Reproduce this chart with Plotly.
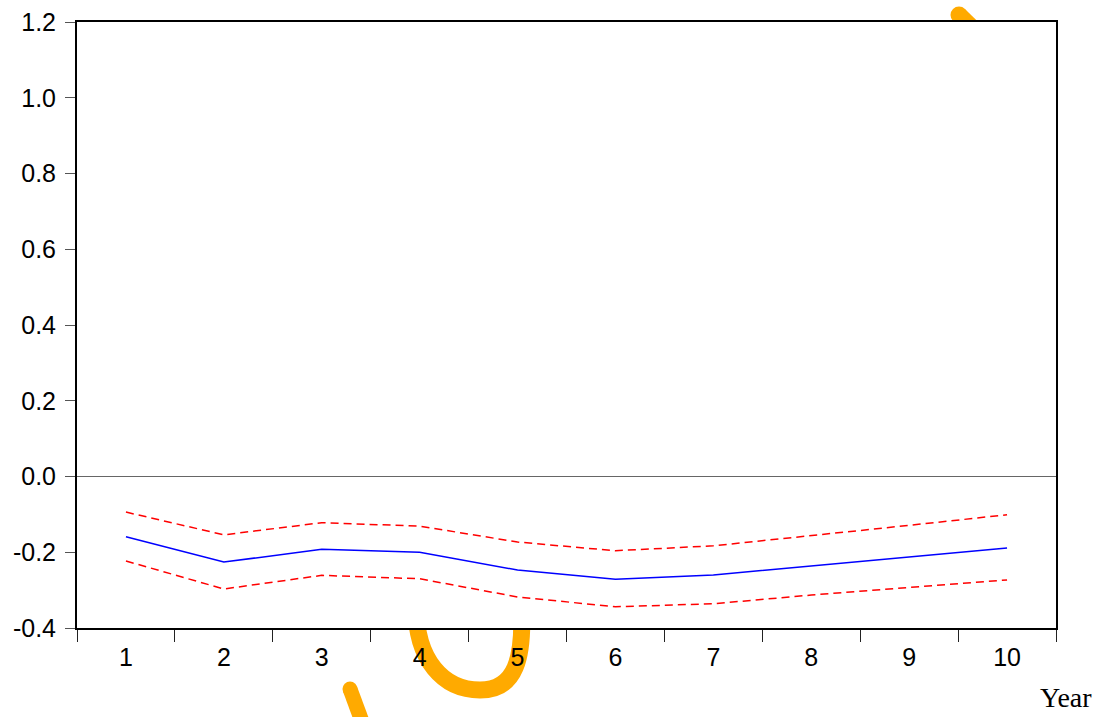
import plotly.graph_objects as go

# Data
periods = ["1", "2", "3", "4", "5", "6", "7", "8", "9", "10"]
response = [-0.159, -0.226, -0.192, -0.200, -0.247, -0.271, -0.260, -0.236, -0.212, -0.189]
upper_band = [-0.094, -0.154, -0.122, -0.131, -0.173, -0.196, -0.183, -0.157, -0.129, -0.101]
lower_band = [-0.223, -0.297, -0.261, -0.270, -0.318, -0.344, -0.336, -0.313, -0.293, -0.273]
y_tick_vals = [-0.4, -0.2, 0.0, 0.2, 0.4, 0.6, 0.8, 1.0, 1.2]
y_tick_text = ["-0.4", "-0.2", "0.0", "0.2", "0.4", "0.6", "0.8", "1.0", "1.2"]

W, H = 1106, 717
L, R, T, B = 77, 50, 22, 89

fig = go.Figure()
fig.add_trace(go.Scatter(x=periods, y=upper_band, mode="lines",
                         line=dict(color="#FF0000", width=1.5, dash="8px,5px"),
                         hoverinfo="skip", showlegend=False))
fig.add_trace(go.Scatter(x=periods, y=lower_band, mode="lines",
                         line=dict(color="#FF0000", width=1.5, dash="8px,5px"),
                         hoverinfo="skip", showlegend=False))
fig.add_trace(go.Scatter(x=periods, y=response, mode="lines",
                         line=dict(color="#0000FF", width=1.5),
                         hoverinfo="skip", showlegend=False))

font_sans = "Liberation Sans, Arial, sans-serif"

# Orange hand-drawn marks (decoration), in pixel coords converted to paper
def px(x):
    return (x - L) / (W - L - R)

def py(y):
    return 1 - (y - T) / (H - T - B)

orange = "#FFAA00"
shapes = []

loop = "M {},{} C {},{} {},{} {},{} C {},{} {},{} {},{}".format(
    px(416), py(600), px(414), py(662), px(445), py(690), px(480), py(690),
    px(515), py(690), px(525), py(660), px(521), py(600))
shapes.append(dict(type="path", xref="paper", yref="paper", path=loop,
                   line=dict(color=orange, width=17), layer="below"))
shapes.append(dict(type="line", xref="paper", yref="paper",
                   x0=px(350), y0=py(689), x1=px(367), y1=py(735),
                   line=dict(color=orange, width=15), layer="below"))
shapes.append(dict(type="circle", xref="paper", yref="paper",
                   x0=px(350 - 7.5), y0=py(689 - 7.5), x1=px(350 + 7.5), y1=py(689 + 7.5),
                   fillcolor=orange, line=dict(width=0), layer="below"))
shapes.append(dict(type="line", xref="paper", yref="paper",
                   x0=px(959), y0=py(15), x1=px(995), y1=py(50),
                   line=dict(color=orange, width=17), layer="below"))
shapes.append(dict(type="circle", xref="paper", yref="paper",
                   x0=px(959 - 8.5), y0=py(15 - 8.5), x1=px(959 + 8.5), y1=py(15 + 8.5),
                   fillcolor=orange, line=dict(width=0), layer="below"))
# white plot area covering the marks inside the frame
shapes.append(dict(type="rect", xref="paper", yref="paper", x0=0, y0=0, x1=1, y1=1,
                   fillcolor="white", line=dict(width=0), layer="below"))

fig.update_layout(
    width=W, height=H,
    margin=dict(l=L, r=R, t=T, b=B, pad=0, autoexpand=False),
    paper_bgcolor="white", plot_bgcolor="white",
    font=dict(family=font_sans, size=25, color="black"),
    shapes=shapes,
    xaxis=dict(type="category", categoryorder="array", categoryarray=periods,
               range=[-0.5, 9.5], tickson="boundaries", automargin=False,
               ticks="outside", ticklen=12, tickwidth=1, tickcolor="#222",
               ticklabelstandoff=6,
               showline=True, linecolor="black", linewidth=2, mirror=True,
               showgrid=False, zeroline=False,
               tickfont=dict(family=font_sans, size=25, color="black")),
    yaxis=dict(range=[-0.4, 1.2], tickvals=y_tick_vals, ticktext=y_tick_text,
               automargin=False, ticklabelstandoff=4,
               ticks="outside", ticklen=10, tickwidth=1, tickcolor="#555",
               showline=True, linecolor="black", linewidth=2, mirror=True,
               showgrid=False, zeroline=True, zerolinecolor="#666", zerolinewidth=1,
               tickfont=dict(family=font_sans, size=25, color="black")),
    annotations=[dict(text="Year", xref="paper", yref="paper",
                      x=px(1094), y=py(697), xanchor="right", yanchor="middle",
                      showarrow=False,
                      font=dict(family="Liberation Serif, Times New Roman, serif",
                                size=28, color="black"))],
)

fig.write_html("out.html")
